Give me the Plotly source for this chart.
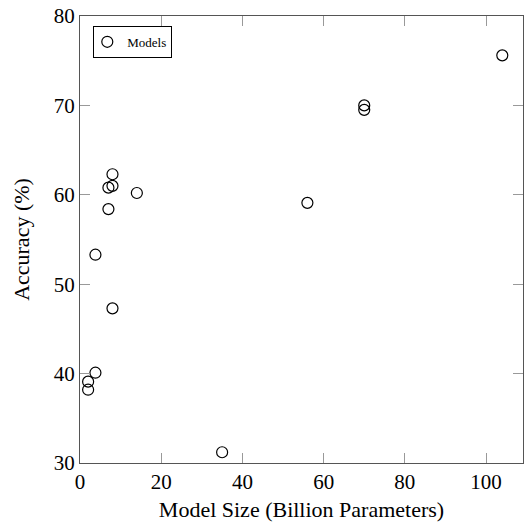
import plotly.graph_objects as go

model_size = [8, 8, 7, 14, 7, 3.8, 8, 3.8, 2, 2, 35, 104, 70, 70, 56]
accuracy = [62.3, 61.0, 60.8, 60.2, 58.4, 53.3, 47.3, 40.1, 39.1, 38.2, 31.2, 75.6, 70.0, 69.5, 59.1]
x_ticks = [0, 20, 40, 60, 80, 100]
y_ticks = [30, 40, 50, 60, 70, 80]

FONT = "Liberation Serif"

fig = go.Figure()
fig.add_trace(go.Scatter(
    x=model_size, y=accuracy, mode="markers", name="Models",
    marker=dict(symbol="circle-open", size=11, color="black", line=dict(width=1.2)),
))

axis_common = dict(
    showgrid=False, zeroline=False, showline=True, linecolor="#555555", linewidth=1.3,
    mirror="ticks", ticks="inside", ticklen=10, tickcolor="#999999", tickwidth=1,
    tickfont=dict(family=FONT, size=21, color="black"), automargin=False,
    ticklabeloverflow="allow",
)

fig.update_layout(
    width=524, height=527,
    margin=dict(l=80, r=0.5, t=15.5, b=64.3),
    paper_bgcolor="white", plot_bgcolor="white",
    font=dict(family=FONT, color="black"),
    showlegend=True,
    legend=dict(
        x=0.03, y=0.978, xanchor="left", yanchor="top",
        bordercolor="black", borderwidth=1, bgcolor="white",
        font=dict(family=FONT, size=13, color="black"),
        itemwidth=30, indentation=-7,
    ),
    xaxis=dict(
        range=[0, 109.1], tickvals=x_ticks,
        title=dict(text="Model Size (Billion Parameters)", font=dict(family=FONT, size=22), standoff=8),
        **axis_common,
    ),
    yaxis=dict(
        range=[30, 80], tickvals=y_ticks,
        title=dict(text="Accuracy (%)", font=dict(family=FONT, size=22), standoff=17),
        **axis_common,
    ),
)

# remove the default 8px page margin so the figure fills the window exactly
fig.write_html("out.html", config={"displayModeBar": False},
               post_script="document.body.style.margin='0';")
